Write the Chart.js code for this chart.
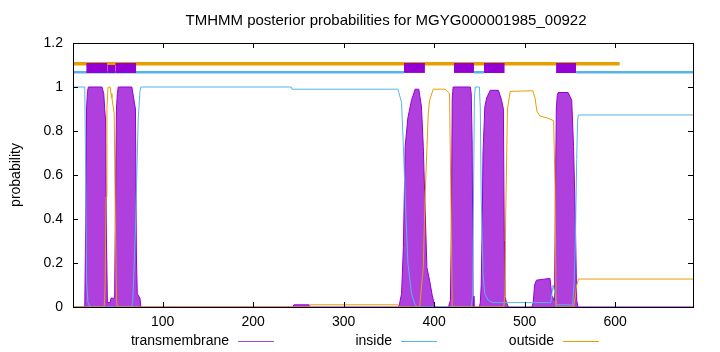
<!DOCTYPE html>
<html>
<head>
<meta charset="utf-8">
<script src="https://cdn.jsdelivr.net/npm/chart.js@4.4.0/dist/chart.umd.min.js"></script>
<style>
  html, body { margin: 0; padding: 0; background: #fff; }
  #wrap { width: 720px; height: 352px; }
</style>
</head>
<body>
<div id="wrap"><canvas id="grafico"></canvas></div>
<script>
// valores: [residuo, probabilidad]
const transmembrane = [
    [1, 0], [14, 0], [15, 0.36], [16, 0.9], [17, 0.98], [18, 1], [33, 1], [35, 0.97], [36, 0.9],
    [37, 0.85], [38, 0.3], [39, 0.02], [42, 0.02], [43, 0.04], [47, 0.04], [48, 0.5], [49, 0.9],
    [50, 0.97], [51, 1], [66, 1], [68, 0.95], [70, 0.9], [71, 0.25], [72, 0.06], [75, 0.04], [76, 0],
    [244, 0], [245, 0.01], [262, 0.01], [263, 0],
    [361, 0], [362, 0.02], [364, 0.06], [366, 0.27], [368, 0.73], [371, 0.86], [375, 0.94], [379, 0.99],
    [383, 0.99], [386, 0.91], [388, 0.73], [390, 0.45], [392, 0.18], [395, 0.12], [398, 0.05], [401, 0],
    [416, 0], [417, 0.02], [418, 0.03], [419, 0.35], [420, 0.95], [421, 1], [440, 1], [441, 0.97],
    [442, 0.75], [443, 0.05], [444, 0],
    [450, 0], [451, 0.02], [452, 0.1], [453, 0.35], [454, 0.7], [456, 0.91], [458, 0.95], [462, 0.985],
    [471, 0.985], [474.5, 0.94], [476.5, 0.9], [477.5, 0.3], [478, 0.05], [480, 0.02], [482, 0],
    [508, 0], [509.5, 0.02], [511, 0.1], [513, 0.122], [528, 0.13], [530, 0.05], [533, 0.03],
    [534, 0.5], [535, 0.9], [536, 0.96], [537, 0.975], [548, 0.975], [552, 0.94], [554, 0.73],
    [556, 0.4], [557.5, 0.03], [559, 0], [686, 0]
];
const inside = [
    [1, 1], [14, 1], [15, 0.6], [16, 0.12], [17.5, 0.02], [20, 0], [66, 0], [67, 0.02], [70, 0.35],
    [73, 0.85], [75, 0.98], [76, 1], [242, 1], [243, 0.99], [360, 0.99], [364, 0.93], [366, 0.73],
    [368, 0.5], [371, 0.2], [375, 0.06], [379, 0.01], [381, 0], [441, 0], [442.5, 0.05], [443.5, 0.5],
    [444.5, 0.95], [445.5, 1], [450, 1], [451, 0.9], [452, 0.5], [454, 0.15], [456, 0.06], [460, 0.03],
    [465, 0.02], [529, 0.02], [530, 0.06], [531.5, 0.1], [533.5, 0.06], [535, 0.01], [553, 0.01],
    [554.5, 0.1], [556, 0.28], [557.5, 0.67], [558.5, 0.85], [559.5, 0.873], [686, 0.873]
];
const outside = [
    [1, 0], [35.5, 0], [36.5, 0.1], [37.5, 0.5], [38.5, 0.9], [39.5, 0.99], [40, 1], [42, 1],
    [43, 0.97], [44, 0.95], [46.5, 0.88], [47.5, 0.5], [49, 0.03], [50, 0], [262, 0], [263, 0.01],
    [360, 0.01], [362, 0], [384, 0], [388, 0.18], [390, 0.5], [393.5, 0.88], [395, 0.94], [399, 0.99],
    [412, 0.99], [417, 0.97], [418.5, 0.5], [420, 0], [477, 0], [478, 0.05], [479, 0.4], [481, 0.9],
    [484, 0.98], [509, 0.983], [511.5, 0.95], [513.5, 0.89], [517, 0.868], [524.5, 0.86], [532, 0.847],
    [533.6, 0.55], [534.7, 0], [554, 0], [556, 0.05], [557.5, 0.1], [559.5, 0.127], [686, 0.127]
];
// regiones de la barra superior
const tmRegions = [[15.6, 38.8], [47.7, 70.9], [366.6, 389.8], [421.9, 444], [455, 478], [534.7, 556.9]];
const insideRegions = [[1, 366.6], [444, 455], [556.9, 686]];
const outsideRegions = [[1, 605]];
const xTicks = [100, 200, 300, 400, 500, 600];
const yTicks = [0, 0.2, 0.4, 0.6, 0.8, 1, 1.2];
const yTickLabels = ['0', '0.2', '0.4', '0.6', '0.8', '1', '1.2'];

const PURPLE = '#9400d3';
const BLUE = '#56b4e9';
const ORANGE = '#e69f00';
const FONT = '"Liberation Sans", Arial, sans-serif';

function puntos(arr) {
    return arr.map(p => ({ x: p[0], y: p[1] }));
}
function segmentos(regiones, nivel) {
    const out = [];
    regiones.forEach(r => {
        out.push({ x: r[0], y: nivel }, { x: r[1], y: nivel }, { x: r[1], y: null });
    });
    return out;
}

const datasets = [];
tmRegions.forEach(r => {
    datasets.push({
        label: 'tmbox', data: [{ x: r[0], y: 1.109 }, { x: r[1], y: 1.109 }],
        borderWidth: 0, borderColor: PURPLE, backgroundColor: PURPLE,
        fill: { value: 1.064 }, pointRadius: 0, order: 1
    });
});
datasets.push({
    label: 'tmgap', data: [{ x: tmRegions[0][1], y: 1.1 }, { x: tmRegions[1][0], y: 1.1 }],
    borderWidth: 0, borderColor: PURPLE, backgroundColor: PURPLE,
    fill: { value: 1.064 }, pointRadius: 0, order: 1
});
datasets.push({
    label: 'outTop', data: segmentos(outsideRegions, 1.106), borderColor: ORANGE,
    borderWidth: 3.5, pointRadius: 0, fill: false, spanGaps: false, order: 3
});
datasets.push({
    label: 'inTop', data: segmentos(insideRegions, 1.067), borderColor: BLUE,
    borderWidth: 2.5, pointRadius: 0, fill: false, spanGaps: false, order: 2
});
datasets.push({
    label: 'outside', data: puntos(outside), borderColor: ORANGE, borderWidth: 1,
    pointRadius: 0, fill: false, order: 4
});
datasets.push({
    label: 'inside', data: puntos(inside), borderColor: BLUE, borderWidth: 1,
    pointRadius: 0, fill: false, order: 5
});
datasets.push({
    label: 'transmembrane', data: puntos(transmembrane), borderColor: PURPLE, borderWidth: 1,
    backgroundColor: 'rgba(148, 0, 211, 0.75)', pointRadius: 0, fill: 'origin', order: 6
});

const marco = {
    id: 'marco',
    afterDraw(chart) {
        const ctx = chart.ctx;
        const a = chart.chartArea;
        const sx = chart.scales.x, sy = chart.scales.y;
        ctx.save();
        ctx.strokeStyle = '#000';
        ctx.lineWidth = 1;
        ctx.strokeRect(Math.round(a.left) + 0.5, Math.round(a.top) + 0.5,
            Math.round(a.right - a.left), Math.round(a.bottom - a.top));
        ctx.beginPath();
        xTicks.forEach(v => {
            const px = Math.round(sx.getPixelForValue(v)) + 0.5;
            ctx.moveTo(px, a.bottom); ctx.lineTo(px, a.bottom - 5);
            ctx.moveTo(px, a.top); ctx.lineTo(px, a.top + 5);
        });
        yTicks.forEach(v => {
            const py = Math.round(sy.getPixelForValue(v)) + 0.5;
            ctx.moveTo(a.left, py); ctx.lineTo(a.left + 5, py);
            ctx.moveTo(a.right, py); ctx.lineTo(a.right - 5, py);
        });
        ctx.stroke();

        // titulo
        ctx.fillStyle = '#000';
        ctx.font = '15px ' + FONT;
        ctx.textAlign = 'center';
        ctx.textBaseline = 'middle';
        ctx.fillText('TMHMM posterior probabilities for MGYG000001985_00922', (a.left + a.right) / 2 + 3, 21);

        // leyenda: texto y luego la muestra de linea
        const items = [
            { text: 'transmembrane', end: 229, color: '#a64ad6' },
            { text: 'inside', end: 392, color: BLUE },
            { text: 'outside', end: 554, color: ORANGE }
        ];
        ctx.font = '14px ' + FONT;
        ctx.textAlign = 'right';
        items.forEach(it => {
            ctx.fillStyle = '#000';
            ctx.fillText(it.text, it.end, 341);
            ctx.strokeStyle = it.color;
            ctx.beginPath();
            ctx.moveTo(it.end + 9, 341.5);
            ctx.lineTo(it.end + 45, 341.5);
            ctx.stroke();
        });
        ctx.restore();
    }
};

const ctx = document.getElementById('grafico').getContext('2d');
new Chart(ctx, {
    type: 'line',
    data: { datasets: datasets },
    options: {
        responsive: true,
        maintainAspectRatio: false,
        animation: false,
        events: [],
        layout: { padding: { left: 0, right: 27, top: 43, bottom: 0 } },
        elements: { line: { tension: 0 } },
        plugins: {
            legend: { display: false },
            title: { display: false },
            tooltip: { enabled: false }
        },
        scales: {
            x: {
                type: 'linear', min: 1, max: 686,
                afterBuildTicks: s => { s.ticks = xTicks.map(v => ({ value: v })); },
                afterFit: s => { s.height = 45; },
                grid: { display: false, drawTicks: false },
                border: { display: false },
                ticks: { color: '#000', padding: 7, maxRotation: 0, font: { size: 14, family: FONT } }
            },
            y: {
                type: 'linear', min: 0, max: 1.2,
                afterBuildTicks: s => { s.ticks = yTicks.map(v => ({ value: v })); },
                afterFit: s => { s.width = 73; },
                grid: { display: false, drawTicks: false },
                border: { display: false },
                ticks: {
                    color: '#000', padding: 10, font: { size: 14, family: FONT },
                    callback: (v, i) => yTickLabels[i]
                },
                title: {
                    display: true, text: 'probability', color: '#000',
                    font: { size: 14, family: FONT }, padding: { top: 8, bottom: 0 }
                }
            }
        }
    },
    plugins: [marco]
});
</script>
</body>
</html>
